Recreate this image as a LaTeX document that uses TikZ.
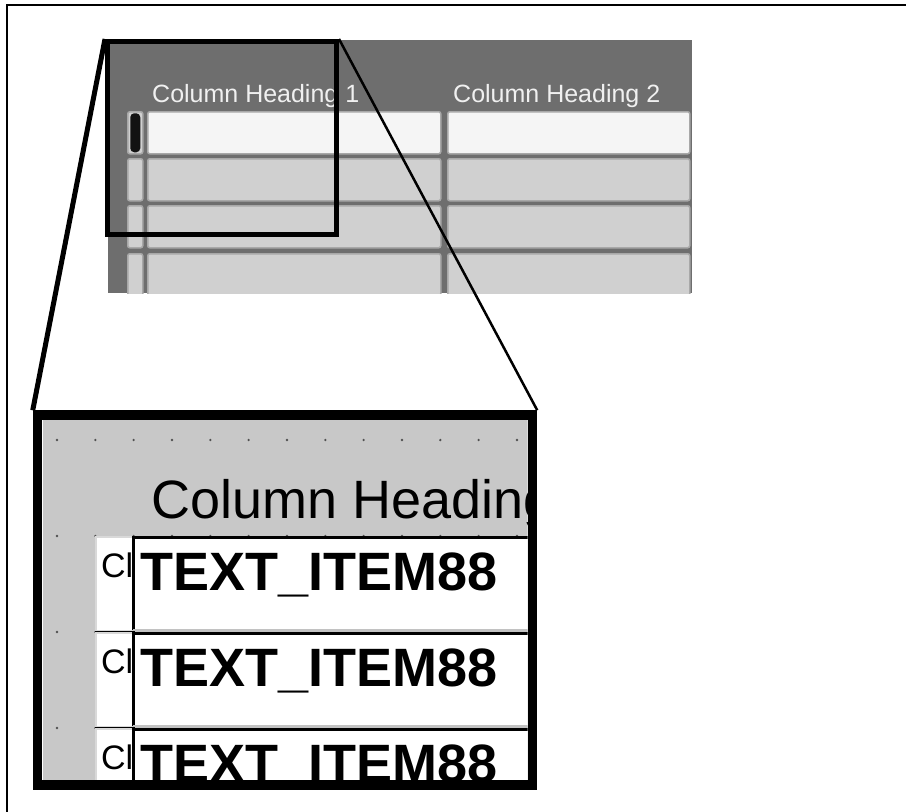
\documentclass[tikz,border=0pt]{standalone}
\usepackage{fontspec}
\setmainfont{Liberation Sans}
\usetikzlibrary{positioning}
\definecolor{tabledark}{HTML}{6E6E6E}
\definecolor{cellgray}{HTML}{D0D0D0}
\definecolor{cellwhite}{HTML}{F5F5F5}
\definecolor{cellrim}{HTML}{A8A8A8}
\definecolor{canvasgray}{HTML}{C8C8C8}
\definecolor{dotgray}{HTML}{505050}
\definecolor{headwhite}{HTML}{F0F0F0}
\newcommand{\headfont}{\fontsize{25}{28}\selectfont}
\newcommand{\zoomfont}{\fontsize{54}{60}\selectfont}
\newcommand{\tagfont}{\fontsize{34}{38}\selectfont}

\begin{document}
\begin{tikzpicture}[x=1pt, y=-1pt,
 field/.style = {draw=cellrim, line width=1.5pt, rounded corners=2pt, anchor=north west, inner sep=0pt, minimum height=42pt},
 headtext/.style = {anchor=base west, inner sep=0pt, text=headwhite, font=\headfont},
 zoomframe/.style = {draw, line width=5pt, inner sep=0pt},
 bigframe/.style = {draw, line width=9.5pt, inner sep=0pt},
 tagcell/.style = {draw=white!85!black, fill=white, line width=1.5pt, anchor=north west, inner sep=0pt, minimum width=38pt, minimum height=94pt},
 itemfield/.style = {fill=white, anchor=north west, inner sep=0pt, minimum width=400pt, minimum height=93pt},
 itemtext/.style = {anchor=base west, inner sep=0pt, font=\zoomfont\bfseries},
 tagtext/.style = {anchor=base west, inner sep=0pt, font=\tagfont},
                        ]
    \useasboundingbox (0,0) rectangle (906,812);
    \draw[line width=2pt] (906,5) -- (7,5) -- (7,812);

%% small table
    \fill[tabledark] (108,40) rectangle (692,293);
    \node [headtext] (head1) at (152,102) {Column Heading 1};
    \node [headtext] (head2) at (453,102) {Column Heading 2};
    \begin{scope}
    \clip (108,40) rectangle (692,293);
    \foreach \r/\y/\c in {1/111/cellwhite, 2/158/cellgray, 3/205/cellgray, 4/253/cellgray} {
        \node [field, fill=cellgray, minimum width=15pt] (row\r)  at (127,\y) {};
        \node [field, fill=\c, minimum width=293pt]     (colA\r) at (147,\y) {};
        \node [field, fill=\c, minimum width=242pt]     (colB\r) at (447,\y) {};
    }
    \end{scope}
    \node [fill=black!93, rounded corners=4pt, inner sep=0pt, minimum width=10pt, minimum height=39pt] (current) at (row1) {};

%% zoomed view
    \begin{scope}
    \clip (42.5,419.75) rectangle (527.5,780.25);
    \fill[canvasgray] (42.5,419.75) rectangle (527.5,780.25);
    \foreach \j in {440,536,632,728}
        \foreach \i in {0,...,12}
            \fill[dotgray] (57+38.33*\i,\j) circle (1.3pt);
    \node [anchor=base west, inner sep=0pt, font=\zoomfont] (zoomhead) at (151,518) {Column Heading};
    \foreach \k/\y in {1/536, 2/632, 3/728} {
        \node [tagcell]   (tag\k)  at (95,\y) {};
        \node [itemfield] (item\k) at (133,\y+1) {};
        \draw[line width=3pt] (item\k.south west) -- (item\k.north west) -- (item\k.north east);
        \draw[cellrim!70, line width=3pt] (item\k.south west) -- (item\k.south east);
        \draw[line width=2pt] (tag\k.south west) -- (tag\k.south east);
        \begin{scope}
        \clip (tag\k.south west) rectangle ([xshift=-1pt]tag\k.north east);
        \node [tagtext] (tagname\k) at (101,\y+41) {Cl};
        \end{scope}
        \node [itemtext] (label\k) at (140,\y+54) {TEXT\_ITEM88};
    }
    \end{scope}

    \node [zoomframe, minimum width=229pt, minimum height=193pt] (zoombox) at (222,138) {};
    \node [bigframe, minimum width=495pt, minimum height=370pt]  (bigbox)  at (285,600) {};

%% paths
    \path[draw] (zoombox.north west) edge[line width=5pt]   (bigbox.north west)
                (zoombox.north east) edge[line width=2.5pt] (bigbox.north east)
                ;
    \end{tikzpicture}
\end{document}
